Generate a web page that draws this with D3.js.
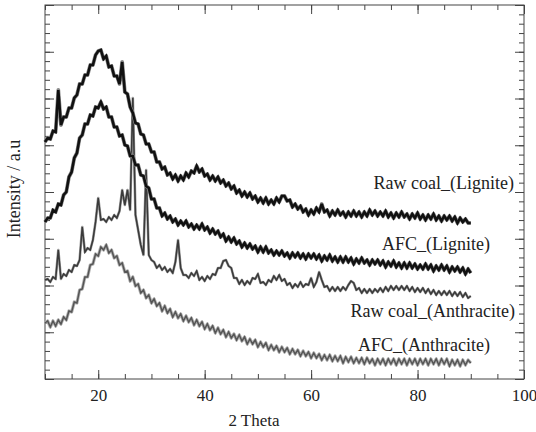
<!DOCTYPE html>
<html><head><meta charset="utf-8">
<script src="https://cdn.jsdelivr.net/npm/d3@7/dist/d3.min.js"></script>
<style>body{margin:0;background:#fff}svg{display:block}</style>
</head><body><svg id="c" width="536" height="432"></svg>
<script>
// 2-theta sampling positions (degrees)
const theta = [
10,10.5,11,11.5,12,12.5,13,13.5,14,14.5,15,15.5,16,16.5,17,17.5,18,18.5,19,19.5,
20,20.5,21,21.5,22,22.5,23,23.5,24,24.5,25,25.5,26,26.5,27,27.5,28,28.5,29,29.5,
30,30.5,31,31.5,32,32.5,33,33.5,34,34.5,35,35.5,36,36.5,37,37.5,38,38.5,39,39.5,
40,40.5,41,41.5,42,42.5,43,43.5,44,44.5,45,45.5,46,46.5,47,47.5,48,48.5,49,49.5,
50,50.5,51,51.5,52,52.5,53,53.5,54,54.5,55,55.5,56,56.5,57,57.5,58,58.5,59,59.5,
60,60.5,61,61.5,62,62.5,63,63.5,64,64.5,65,65.5,66,66.5,67,67.5,68,68.5,69,69.5,
70,70.5,71,71.5,72,72.5,73,73.5,74,74.5,75,75.5,76,76.5,77,77.5,78,78.5,79,79.5,
80,80.5,81,81.5,82,82.5,83,83.5,84,84.5,85,85.5,86,86.5,87,87.5,88,88.5,89,89.5,90];

const rawLignite = [
258,262,261,269,268,310,275,283,283,292, 292,302,305,316,316,325,325,335,335,345,
349,350,341,344,333,334,324,324,316,338, 308,306,293,287,277,276,266,265,256,256,
248,248,238,238,231,233,225,227,221,225, 219,224,220,227,223,229,227,234,228,231,
224,226,220,224,219,223,217,220,214,217, 211,214,207,210,204,208,203,207,201,204,
198,202,197,202,196,200,196,202,198,204, 204,199,200,193,196,191,194,188,191,185,
190,186,192,188,196,188,190,184,189,185, 190,185,188,183,188,184,189,184,188,183,
188,184,190,185,189,184,188,184,189,183, 187,182,187,183,188,183,186,181,186,182,
187,181,185,180,185,181,186,180,184,179, 184,180,184,179,183,177,182,178,181,177,177];

const afcLignite = [
178,182,182,190,188,196,195,205,208,223, 228,242,247,262,265,276,276,285,284,293,
292,298,291,293,283,283,273,273,264,265, 255,254,244,244,235,235,225,224,214,212,
201,201,192,192,184,187,181,184,178,181, 175,179,175,179,173,176,171,175,171,176,
170,173,167,171,166,169,163,166,159,163, 158,162,156,159,153,157,152,156,151,154,
148,153,148,153,147,150,145,149,145,149, 144,147,142,147,143,147,142,146,141,146,
142,146,141,145,139,144,140,145,139,143, 138,143,138,143,138,142,136,141,137,142,
137,140,135,140,136,140,135,139,133,138, 134,139,133,137,132,137,132,137,132,136,
131,135,131,136,131,135,129,134,130,135, 130,134,128,133,129,133,128,132,126,131,127];

const rawAnthracite = [
120,121,118,123,121,150,121,126,124,130, 128,135,134,140,173,148,152,150,160,178,
202,180,181,178,183,180,185,182,189,210, 195,210,190,302,185,170,155,145,230,145,
140,138,132,135,130,133,128,131,127,138, 160,132,125,125,122,127,124,129,120,123,
119,124,121,126,125,132,132,139,140,134, 132,122,122,116,120,115,119,116,122,121,
126,117,118,115,120,118,124,120,125,119, 121,115,117,112,116,113,118,113,116,115,
122,113,118,128,120,113,114,109,113,109, 113,109,113,110,115,119,117,110,112,107,
111,107,111,107,111,108,112,108,113,109, 114,110,114,110,114,110,114,109,113,108,
112,108,112,107,111,106,110,105,109,105, 109,105,109,104,108,104,108,103,107,102,104];

const afcAnthracite = [
77,79,73,79,74,80,76,83,80,89, 88,98,97,110,111,123,123,135,136,146,
144,153,150,155,147,150,142,144,135,137, 128,129,119,123,114,116,107,110,102,105,
97,101,94,97,89,94,87,91,83,88, 82,86,79,84,78,82,75,80,74,78,
71,76,70,74,67,72,66,70,63,68, 62,66,60,65,59,63,56,61,56,60,
53,58,53,57,50,55,50,54,48,53, 48,52,46,51,46,50,44,49,44,48,
42,47,42,46,40,45,40,45,39,44, 39,44,37,43,38,43,37,42,37,42,
36,42,37,41,35,41,36,41,35,41, 36,41,35,41,36,41,35,41,36,41,
35,41,36,41,35,41,36,41,35,41, 36,41,34,40,35,40,34,40,35,40,37];

const seriesNames = ["Raw coal_(Lignite)", "AFC_(Lignite)", "Raw coal_(Anthracite)", "AFC_(Anthracite)"];
const seriesValues = [rawLignite, afcLignite, rawAnthracite, afcAnthracite];
const xMajorTicks = [20, 40, 60, 80, 100];
const xMinorTicks = [10,15,20,25,30,35,40,45,50,55,60,65,70,75,80,85,90,95,100];
const xTitle = "2 Theta";
const yTitle = "Intensity / a.u";

// ---- layout & style (not data) ----
const L = 45, R = 524, T = 5, B = 379;
const styles = [
  {stroke:"#111", width:2.6, halo:"#8a8a8a", haloW:3.8},
  {stroke:"#111", width:2.6, halo:"#8a8a8a", haloW:3.8},
  {stroke:"#3a3a3a", width:1.5, halo:"#9a9a9a", haloW:2.6},
  {stroke:"#555", width:1.5, halo:"#b0b0b0", haloW:3.2}
];
const labelPos = [[514,189],[490,250],[515,317],[490,351]];
const serif = "Liberation Serif, Times New Roman, serif";

const svg = d3.select("#c");
const x = d3.scaleLinear().domain([10, 100]).range([L, R]);
const y = d3.scaleLinear().domain([21, 395]).range([B, T]);
const yMajor = d3.range(0, 9).map(k => 21 + k * (374 / 8));
const yMinor = d3.range(0, 41).map(k => 21 + k * (374 / 40));

const axisColor = "#444";
function styleAxis(g){
  g.select(".domain").remove();
  g.selectAll(".tick line").attr("stroke", axisColor);
}
svg.append("g").attr("transform", `translate(0,${B})`)
  .call(d3.axisBottom(x).tickValues(xMinorTicks).tickSize(-5).tickFormat(""))
  .call(styleAxis);
svg.append("g").attr("transform", `translate(0,${B})`)
  .call(d3.axisBottom(x).tickValues(xMajorTicks).tickSize(-9).tickPadding(10).tickFormat(d3.format("d")))
  .call(styleAxis)
  .call(g => g.selectAll("text").attr("font-family", serif).attr("font-size", 17).attr("fill", "#222"));
svg.append("g").attr("transform", `translate(0,${T})`)
  .call(d3.axisTop(x).tickValues(xMinorTicks).tickSize(-5).tickFormat(""))
  .call(styleAxis);
svg.append("g").attr("transform", `translate(0,${T})`)
  .call(d3.axisTop(x).tickValues(xMajorTicks).tickSize(-9).tickFormat(""))
  .call(styleAxis);
svg.append("g").attr("transform", `translate(${L},0)`)
  .call(d3.axisLeft(y).tickValues(yMinor).tickSize(-5).tickFormat(""))
  .call(styleAxis);
svg.append("g").attr("transform", `translate(${L},0)`)
  .call(d3.axisLeft(y).tickValues(yMajor).tickSize(-9).tickFormat(""))
  .call(styleAxis);
svg.append("g").attr("transform", `translate(${R},0)`)
  .call(d3.axisRight(y).tickValues(yMinor).tickSize(-5).tickFormat(""))
  .call(styleAxis);
svg.append("g").attr("transform", `translate(${R},0)`)
  .call(d3.axisRight(y).tickValues(yMajor).tickSize(-9).tickFormat(""))
  .call(styleAxis);

svg.append("rect").attr("x", L).attr("y", T).attr("width", R - L).attr("height", B - T)
  .attr("fill", "none").attr("stroke", axisColor).attr("stroke-width", 1);

const line = d3.line().x((d, i) => x(theta[i])).y(d => y(d));
[3, 2, 1, 0].forEach(s => {
  svg.append("path").datum(seriesValues[s])
    .attr("d", line).attr("fill", "none")
    .attr("stroke", styles[s].halo).attr("stroke-width", styles[s].haloW)
    .attr("stroke-linejoin", "round");
  svg.append("path").datum(seriesValues[s])
    .attr("d", line).attr("fill", "none")
    .attr("stroke", styles[s].stroke).attr("stroke-width", styles[s].width)
    .attr("stroke-linejoin", "miter").attr("stroke-miterlimit", 3);
});

seriesNames.forEach((n, s) => {
  svg.append("text").attr("x", labelPos[s][0]).attr("y", labelPos[s][1])
    .attr("text-anchor", "end").attr("font-family", serif).attr("font-size", 18)
    .attr("fill", "#222").text(n);
});

svg.append("text").attr("x", 254).attr("y", 426).attr("text-anchor", "middle")
  .attr("font-family", serif).attr("font-size", 17).attr("fill", "#222").text(xTitle);
svg.append("text").attr("transform", "translate(20,189) rotate(-90)").attr("text-anchor", "middle")
  .attr("font-family", serif).attr("font-size", 18).attr("fill", "#222").text(yTitle);
</script></body></html>
